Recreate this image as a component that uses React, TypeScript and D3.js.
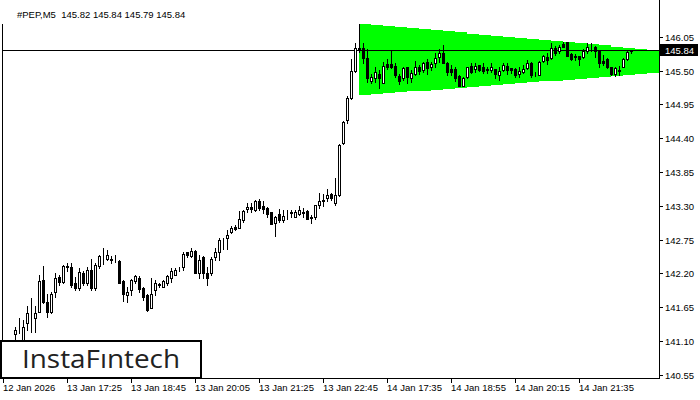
import React from "react";
import * as d3 from "d3";

const title = "#PEP,M5  145.82 145.84 145.79 145.84";
const logoText = "InstaFıntech";

const opens = [
  141.02, 141.05, 141.08, 141.21, 141.29, 141.03, 141.39, 141.54, 141.47, 141.57,
  142.09, 141.74, 141.57, 141.89, 142.14, 142.06, 142.31, 142.30, 142.05, 141.96,
  142.20, 142.05, 142.25, 141.96, 142.32, 142.46, 142.44, 142.43, 142.41, 142.40,
  142.07, 141.85, 141.93, 142.08, 142.13, 141.96, 141.85, 141.63, 141.93, 142.01,
  141.98, 142.05, 142.12, 142.17, 142.28, 142.30, 142.54, 142.48, 142.56, 142.20,
  142.47, 142.20, 142.21, 142.46, 142.55, 142.74, 142.78, 142.87, 142.96, 142.93,
  143.06, 143.24, 143.28, 143.23, 143.38, 143.30, 143.26, 143.20, 143.02, 143.17,
  143.07, 143.16, 143.19, 143.12, 143.17, 143.20, 143.22, 143.11, 143.11, 143.31,
  143.37, 143.43, 143.49, 143.34, 143.47, 144.32, 144.69, 145.05, 145.50, 145.86,
  145.86, 145.70, 145.33, 145.37, 145.44, 145.30, 145.61, 145.61, 145.57, 145.41,
  145.37, 145.55, 145.37, 145.45, 145.55, 145.51, 145.64, 145.55, 145.62, 145.72,
  145.79, 145.63, 145.52, 145.52, 145.41, 145.25, 145.39, 145.57, 145.52, 145.59,
  145.56, 145.52, 145.51, 145.52, 145.43, 145.51, 145.57, 145.54, 145.52, 145.45,
  145.48, 145.54, 145.63, 145.43, 145.43, 145.66, 145.72, 145.70, 145.86, 145.81,
  145.93, 145.96, 145.77, 145.73, 145.74, 145.72, 145.81, 145.86, 145.89, 145.82,
  145.65, 145.68, 145.55, 145.45, 145.50, 145.56, 145.69, 145.82,
];
const highs = [
  141.08, 141.10, 141.10, 141.33, 141.48, 141.44, 141.66, 141.79, 141.67, 142.18,
  142.32, 141.87, 141.90, 142.20, 142.18, 142.33, 142.36, 142.36, 142.14, 142.28,
  142.23, 142.31, 142.44, 142.36, 142.50, 142.61, 142.58, 142.48, 142.50, 142.42,
  142.09, 141.98, 142.10, 142.18, 142.16, 141.98, 141.87, 142.12, 142.09, 142.05,
  142.09, 142.17, 142.28, 142.28, 142.31, 142.54, 142.55, 142.61, 142.58, 142.50,
  142.48, 142.31, 142.47, 142.61, 142.78, 142.77, 142.90, 142.97, 142.98, 143.21,
  143.23, 143.34, 143.35, 143.40, 143.41, 143.37, 143.28, 143.20, 143.13, 143.24,
  143.23, 143.23, 143.23, 143.23, 143.30, 143.26, 143.23, 143.15, 143.31, 143.50,
  143.49, 143.57, 143.51, 143.75, 144.30, 144.68, 145.09, 145.68, 145.95, 146.26,
  145.95, 145.85, 145.45, 145.56, 145.51, 145.64, 145.68, 145.83, 145.62, 145.45,
  145.56, 145.56, 145.51, 145.66, 145.59, 145.64, 145.68, 145.64, 145.78, 145.85,
  145.92, 145.64, 145.59, 145.56, 145.43, 145.40, 145.56, 145.63, 145.63, 145.59,
  145.62, 145.56, 145.62, 145.52, 145.56, 145.62, 145.62, 145.54, 145.54, 145.56,
  145.59, 145.67, 145.64, 145.48, 145.65, 145.75, 145.78, 145.95, 145.90, 145.92,
  145.97, 145.97, 145.78, 145.77, 145.74, 145.85, 145.94, 145.94, 145.90, 145.83,
  145.75, 145.70, 145.56, 145.56, 145.57, 145.70, 145.81, 145.84,
];
const lows = [
  140.95, 140.98, 141.00, 141.13, 141.23, 140.98, 141.28, 141.25, 141.25, 141.57,
  141.72, 141.49, 141.55, 141.82, 142.01, 142.04, 142.23, 141.98, 141.93, 141.93,
  142.01, 142.01, 141.93, 141.93, 142.28, 142.35, 142.42, 142.37, 142.39, 142.04,
  141.75, 141.74, 141.85, 142.04, 141.90, 141.77, 141.59, 141.63, 141.85, 141.97,
  141.97, 142.01, 142.06, 142.17, 142.23, 142.25, 142.47, 142.47, 142.20, 142.12,
  142.12, 142.01, 142.17, 142.42, 142.42, 142.59, 142.59, 142.86, 142.90, 142.93,
  143.04, 143.20, 143.20, 143.22, 143.23, 143.18, 143.12, 143.00, 142.80, 143.04,
  143.04, 143.09, 143.12, 143.11, 143.15, 143.11, 143.08, 143.02, 143.09, 143.27,
  143.30, 143.37, 143.39, 143.31, 143.45, 144.30, 144.64, 145.03, 145.48, 145.80,
  145.62, 145.32, 145.29, 145.32, 145.22, 145.29, 145.52, 145.54, 145.40, 145.28,
  145.35, 145.30, 145.32, 145.43, 145.45, 145.48, 145.45, 145.51, 145.56, 145.64,
  145.62, 145.43, 145.43, 145.33, 145.24, 145.24, 145.37, 145.46, 145.48, 145.50,
  145.46, 145.46, 145.48, 145.37, 145.35, 145.50, 145.45, 145.46, 145.39, 145.40,
  145.46, 145.52, 145.40, 145.41, 145.42, 145.64, 145.61, 145.68, 145.75, 145.79,
  145.88, 145.74, 145.67, 145.67, 145.59, 145.71, 145.79, 145.81, 145.72, 145.56,
  145.59, 145.54, 145.43, 145.41, 145.43, 145.55, 145.67, 145.79,
];
const closes = [
  141.05, 141.08, 141.06, 141.28, 141.30, 141.32, 141.55, 141.53, 141.55, 142.07,
  141.74, 141.57, 141.87, 142.12, 142.06, 142.32, 142.32, 142.01, 141.96, 142.22,
  142.05, 142.25, 141.96, 142.33, 142.48, 142.47, 142.50, 142.42, 142.42, 142.05,
  141.87, 141.90, 142.09, 142.16, 141.94, 141.82, 141.60, 141.86, 142.04, 142.02,
  142.07, 142.16, 142.23, 142.25, 142.29, 142.51, 142.49, 142.56, 142.21, 142.42,
  142.20, 142.13, 142.44, 142.55, 142.74, 142.75, 142.82, 142.93, 142.92, 143.08,
  143.21, 143.28, 143.24, 143.38, 143.26, 143.24, 143.17, 143.00, 143.12, 143.06,
  143.13, 143.17, 143.18, 143.20, 143.23, 143.18, 143.09, 143.10, 143.31, 143.37,
  143.39, 143.47, 143.42, 143.47, 144.29, 144.67, 145.06, 145.50, 145.86, 145.85,
  145.70, 145.37, 145.39, 145.48, 145.37, 145.57, 145.55, 145.55, 145.43, 145.33,
  145.54, 145.39, 145.46, 145.55, 145.50, 145.62, 145.54, 145.61, 145.71, 145.78,
  145.63, 145.48, 145.48, 145.37, 145.25, 145.37, 145.55, 145.48, 145.57, 145.51,
  145.50, 145.51, 145.56, 145.45, 145.50, 145.59, 145.51, 145.51, 145.43, 145.50,
  145.52, 145.63, 145.43, 145.42, 145.64, 145.74, 145.67, 145.86, 145.79, 145.88,
  145.89, 145.74, 145.68, 145.72, 145.68, 145.82, 145.88, 145.87, 145.82, 145.63,
  145.63, 145.55, 145.44, 145.54, 145.51, 145.68, 145.80, 145.84,
];

const priceTicks = [146.05, 145.5, 144.95, 144.4, 143.85, 143.3, 142.75, 142.2, 141.65, 141.1, 140.55];
const timeTickBars = [0, 16, 32, 48, 64, 80, 96, 112, 128, 144];
const timeTickLabels = [
  "12 Jan 2026", "13 Jan 17:25", "13 Jan 18:45", "13 Jan 20:05", "13 Jan 21:25",
  "13 Jan 22:45", "14 Jan 17:35", "14 Jan 18:55", "14 Jan 20:15", "14 Jan 21:35",
];
const lastPrice = 145.84;
const triangleBars = [89, 164];
const triangleTop = [146.26, 145.82];
const triangleBottom = [145.1, 145.47];

const W = 700;
const H = 400;
const plotLeft = 2;
const plotRight = 659;
const plotBottom = 378;
const font = "'Liberation Sans', Arial, sans-serif";

export default function App() {
  const x = d3.scaleLinear().domain([0, opens.length - 1]).range([3, 3 + 4 * (opens.length - 1)]);
  const y = d3.scaleLinear().domain([140.55, 146.05]).range([374.7, 36.7]);
  const ry = (v: number) => Math.round(y(v));

  const triTop = d3.scaleLinear().domain(triangleBars).range(triangleTop);
  const triBot = d3.scaleLinear().domain(triangleBars).range(triangleBottom);
  const steps = d3.range(triangleBars[0], triangleBars[1], 3);
  let tri = `M${x(steps[0])},${ry(triTop(steps[0]))}`;
  steps.forEach((s, k) => {
    const last = k === steps.length - 1;
    const nx = last ? plotRight : x(steps[k + 1]);
    tri += `H${nx}`;
    if (!last) tri += `V${ry(triTop(steps[k + 1]))}`;
  });
  tri += `V${ry(triBot(steps[steps.length - 1]))}`;
  for (let k = steps.length - 1; k >= 0; k--) {
    tri += `H${x(steps[k])}`;
    if (k > 0) tri += `V${ry(triBot(steps[k - 1]))}`;
  }
  tri += "Z";

  const lastY = ry(lastPrice);

  return (
    <svg
      width={W}
      height={H}
      style={{ position: "absolute", left: 0, top: 0, background: "#fff" }}
      shapeRendering="crispEdges"
    >
      <rect x={0} y={0} width={W} height={H} fill="#fff" />
      <path d={tri} fill="#00ff00" />
      <line x1={plotLeft} x2={plotRight} y1={lastY + 0.5} y2={lastY + 0.5} stroke="#000" />
      {opens.map((o, i) => {
        const c = closes[i];
        const cx = Math.round(x(i));
        const top = ry(Math.max(o, c));
        const bot = ry(Math.min(o, c));
        const yh = ry(highs[i]);
        const yl = ry(lows[i]);
        const up = c >= o;
        return (
          <g key={i}>
            <rect x={cx} y={yh} width={1} height={yl - yh + 1} fill="#000" />
            <rect x={cx - 1 + 0.5} y={top + 0.5} width={2} height={Math.max(0, bot - top)} fill={up ? "#fff" : "#000"} stroke="#000" strokeWidth={1} />
          </g>
        );
      })}
      {/* frame */}
      <line x1={plotLeft + 0.5} x2={plotLeft + 0.5} y1={24} y2={plotBottom} stroke="#000" />
      <line x1={plotRight + 0.5} x2={plotRight + 0.5} y1={0} y2={plotBottom + 1} stroke="#000" />
      <line x1={plotLeft} x2={plotRight + 1} y1={plotBottom + 0.5} y2={plotBottom + 0.5} stroke="#000" />
      {/* price axis */}
      {priceTicks.map((p) => (
        <g key={p}>
          <line x1={plotRight} x2={plotRight + 4} y1={ry(p) + 0.5} y2={ry(p) + 0.5} stroke="#000" />
          <text x={665} y={ry(p) + 4} fontFamily={font} fontSize={9.5} fill="#000" shapeRendering="auto">
            {p.toFixed(2)}
          </text>
        </g>
      ))}
      <rect x={660} y={lastY - 6} width={38} height={12} fill="#000" />
      <text x={665} y={lastY + 4} fontFamily={font} fontSize={9.5} fill="#fff">
        {lastPrice.toFixed(2)}
      </text>
      {/* time axis */}
      {timeTickBars.map((b, k) => (
        <g key={b}>
          <line x1={Math.round(x(b)) + 0.5} x2={Math.round(x(b)) + 0.5} y1={plotBottom} y2={plotBottom + 5} stroke="#000" />
          <text x={Math.round(x(b))} y={391} fontFamily={font} fontSize={9.5} fill="#000">
            {timeTickLabels[k]}
          </text>
        </g>
      ))}
      {/* title */}
      <text x={17} y={18} fontFamily={font} fontSize={9.5} fill="#000" style={{ whiteSpace: "pre" }}>
        {title}
      </text>
      {/* logo */}
      <rect x={1} y={341} width={200} height={37} fill="#fff" stroke="#000" strokeWidth={2} />
      <text
        x={22}
        y={368}
        fontFamily="'Open Sans', 'Noto Sans', sans-serif"
        fontWeight={500}
        fontSize={25}
        fill="#222"
        textLength={158}
        lengthAdjust="spacingAndGlyphs"
      >
        {logoText}
      </text>
    </svg>
  );
}
